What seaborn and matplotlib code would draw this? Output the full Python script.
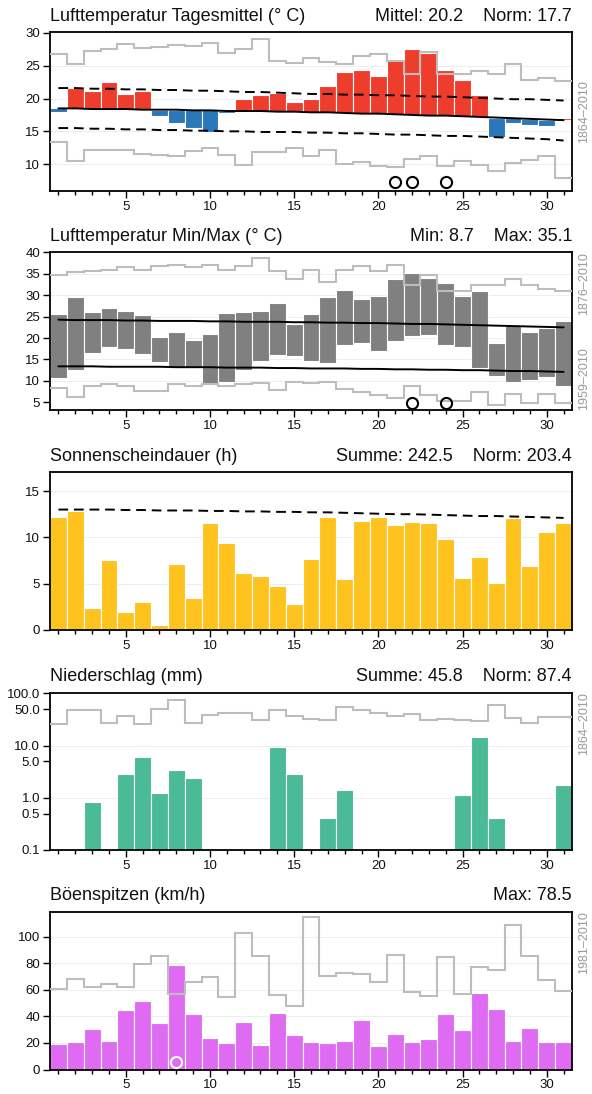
import numpy as np
import seaborn as sns
import matplotlib
matplotlib.use("Agg")
import matplotlib.pyplot as plt
from matplotlib.ticker import NullLocator, FixedFormatter

# ---- data ----
days = np.arange(1, 32)

# Lufttemperatur Tagesmittel
temp_mean = [18.0, 21.6, 21.2, 22.5, 20.7, 21.2, 17.4, 16.3, 15.5, 14.9, 17.8,
             19.9, 20.6, 20.8, 19.5, 20.0, 21.9, 24.0, 24.3, 23.4, 26.1, 27.6,
             26.9, 24.3, 22.9, 20.5, 14.2, 16.2, 16.0, 15.8, 17.0]
temp_norm = [18.5, 18.5, 18.4, 18.4, 18.4, 18.3, 18.3, 18.3, 18.2, 18.2, 18.1,
             18.1, 18.1, 18.0, 18.0, 17.9, 17.9, 17.8, 17.7, 17.7, 17.6, 17.5,
             17.4, 17.4, 17.3, 17.2, 17.1, 17.0, 16.9, 16.8, 16.7]
temp_norm_hi = [21.6, 21.6, 21.5, 21.5, 21.4, 21.4, 21.3, 21.3, 21.2, 21.2, 21.1,
                21.0, 21.0, 20.9, 20.8, 20.7, 20.7, 20.6, 20.6, 20.5, 20.5, 20.4,
                20.3, 20.3, 20.2, 20.1, 20.0, 19.9, 19.9, 19.8, 19.7]
temp_norm_lo = [15.5, 15.5, 15.4, 15.4, 15.3, 15.3, 15.2, 15.2, 15.1, 15.1, 15.0,
                15.0, 14.9, 14.9, 14.9, 14.8, 14.8, 14.7, 14.7, 14.6, 14.5, 14.5,
                14.4, 14.3, 14.3, 14.2, 14.1, 14.0, 13.9, 13.8, 13.6]
temp_rec_hi = [26.8, 25.3, 27.2, 27.6, 28.3, 27.7, 27.9, 28.1, 28.0, 28.4, 27.0,
               27.6, 29.1, 25.7, 25.4, 26.2, 25.5, 25.3, 26.5, 26.8, 25.8, 23.8,
               27.1, 23.8, 23.8, 24.2, 23.8, 25.2, 22.8, 23.2, 22.7]
temp_rec_lo = [13.3, 10.5, 12.1, 12.2, 12.1, 11.5, 11.4, 11.2, 12.0, 12.5, 11.4,
               9.85, 11.8, 11.9, 12.4, 11.3, 12.2, 10.05, 10.3, 9.75, 9.6, 10.8,
               11.3, 9.7, 10.5, 9.8, 8.9, 10.1, 10.6, 11.2, 7.9]
temp_record_days = [21, 22, 24]

# Lufttemperatur Min/Max
tmax = [25.7, 29.6, 26.2, 27.1, 26.4, 25.4, 20.2, 21.4, 19.6, 21.0, 25.8, 26.2,
        26.4, 28.2, 23.4, 25.7, 29.5, 31.3, 29.1, 29.9, 33.8, 35.1, 34.0, 32.8,
        29.9, 31.0, 18.8, 23.1, 21.3, 22.3, 24.0]
tmin = [10.6, 12.6, 16.6, 17.9, 17.4, 16.3, 14.5, 13.0, 13.3, 9.2, 9.7, 12.6,
        14.7, 16.1, 15.7, 14.7, 14.1, 18.4, 18.8, 17.0, 19.4, 20.4, 20.8, 18.3,
        17.9, 13.0, 11.2, 9.8, 10.2, 10.9, 8.7]
tmax_norm = [24.3, 24.2, 24.2, 24.2, 24.1, 24.1, 24.0, 24.0, 24.0, 23.9, 23.9,
             23.8, 23.8, 23.8, 23.7, 23.7, 23.6, 23.6, 23.5, 23.5, 23.4, 23.3,
             23.3, 23.2, 23.1, 23.0, 22.9, 22.8, 22.7, 22.6, 22.5]
tmin_norm = [13.4, 13.4, 13.4, 13.3, 13.3, 13.3, 13.3, 13.2, 13.2, 13.2, 13.1,
             13.1, 13.1, 13.0, 13.0, 12.9, 12.9, 12.9, 12.8, 12.8, 12.7, 12.7,
             12.6, 12.6, 12.5, 12.5, 12.4, 12.3, 12.3, 12.2, 12.1]
tmax_rec = [34.8, 35.4, 35.6, 35.8, 36.7, 35.8, 36.8, 37.1, 36.7, 37.0, 35.8,
            36.8, 38.7, 35.6, 33.9, 35.8, 33.0, 35.8, 36.9, 35.7, 37.1, 32.4,
            34.7, 31.0, 30.9, 32.4, 32.4, 33.8, 32.3, 31.4, 31.0]
tmin_rec = [8.4, 6.3, 8.7, 9.3, 8.7, 7.7, 7.7, 9.3, 8.7, 9.3, 8.7, 9.3, 9.45,
            7.9, 9.8, 9.45, 9.8, 8.05, 7.5, 6.7, 5.9, 8.7, 6.7, 5.2, 5.2, 7.35,
            4.4, 6.9, 4.9, 6.9, 4.9]
tmax_record_days = [22, 24]

# Sonnenscheindauer
sunshine = [12.2, 12.8, 2.4, 7.6, 1.9, 3.0, 0.5, 7.1, 3.5, 11.6, 9.4, 6.2, 5.8,
            4.7, 2.8, 7.7, 12.2, 5.5, 11.8, 12.2, 11.3, 11.7, 11.5, 9.8, 5.6,
            7.9, 5.1, 12.1, 6.9, 10.6, 11.5]
sunshine_max = [13.0, 13.0, 13.0, 13.0, 12.95, 12.95, 12.9, 12.9, 12.9, 12.85,
                12.85, 12.8, 12.8, 12.75, 12.75, 12.7, 12.7, 12.65, 12.6, 12.55,
                12.5, 12.5, 12.45, 12.4, 12.35, 12.3, 12.3, 12.25, 12.2, 12.15,
                12.1]

# Niederschlag (0 = trocken)
precip = [0, 0, 0.73, 0, 2.7, 5.9, 1.15, 3.3, 2.3, 0, 0, 0, 0, 9.3, 2.8, 0,
          0.31, 1.34, 0, 0, 0, 0, 0, 0, 1.05, 14.2, 0.31, 0, 0, 0, 1.67]
precip_rec = [26.3, 47.3, 48.7, 27.5, 36.3, 26.3, 49.4, 75.5, 27.5, 38.0, 42.7,
              42.7, 31.3, 48.0, 36.3, 31.8, 31.3, 54.0, 48.7, 42.7, 36.8, 40.2,
              31.3, 32.3, 30.9, 30.0, 58.9, 33.7, 26.7, 35.3, 35.3]

# Böenspitzen
gust = [19.1, 20.4, 30.4, 21.4, 44.5, 51.8, 35.2, 78.5, 41.7, 23.6, 19.6, 35.9,
        18.1, 42.7, 25.9, 20.9, 19.6, 21.6, 37.2, 17.6, 26.9, 20.9, 22.9, 41.5,
        29.6, 57.8, 45.2, 21.6, 30.9, 20.9, 20.6]
gust_rec = [60.6, 68.3, 62.3, 64.1, 62.3, 79.1, 85.7, 56.8, 66.1, 69.6, 54.3,
            102.5, 85.4, 55.8, 48.0, 114.6, 70.6, 72.6, 71.9, 66.1, 86.4, 58.5,
            55.3, 84.7, 57.0, 77.1, 74.6, 108.8, 85.4, 67.3, 59.3]
gust_record_days = [8]

RED = '#ef3d2d'
BLUE = '#2a77ba'
GREY_BAR = '#808080'
YELLOW = '#ffc320'
GREEN = '#4bba97'
MAGENTA = '#df6bf2'
REC = '#bdbdbd'
SIDE = '#9a9a9a'

sns.set_theme(style='white')
plt.rcParams['font.family'] = ['Liberation Sans', 'DejaVu Sans']

W, H = 592, 1094
fig = plt.figure(figsize=(W / 100, H / 100), dpi=100)


def add_panel(top, bottom):
    return fig.add_axes([50 / W, 1 - bottom / H, 522 / W, (bottom - top) / H])


edges = np.arange(0.5, 32.5)


def style_axis(ax, ylim, yticks, grid):
    ax.set_xlim(0.5, 31.5)
    ax.set_ylim(*ylim)
    ax.set_xticks([5, 10, 15, 20, 25, 30])
    ax.set_xticks(days, minor=True)
    ax.set_yticks(yticks)
    ax.tick_params(which='both', bottom=True, left=True, direction='out',
                   color='black', width=1)
    ax.tick_params(which='major', length=5, labelsize=9.5, pad=2,
                   labelcolor='#111111')
    ax.tick_params(which='minor', length=3)
    ax.yaxis.set_minor_locator(NullLocator())
    for s in ax.spines.values():
        s.set_color('black')
        s.set_linewidth(1.3)
    for y in grid:
        ax.axhline(y, color='#eeeeee', lw=0.8, zorder=0)
    ax.set_xlabel('')
    ax.set_ylabel('')


def titles(ax, left, right):
    ax.annotate(left, xy=(0, 1), xycoords='axes fraction', xytext=(0, 8),
                textcoords='offset points', ha='left', va='baseline',
                fontsize=13, color='#111111')
    ax.annotate(right, xy=(1, 1), xycoords='axes fraction', xytext=(0, 8),
                textcoords='offset points', ha='right', va='baseline',
                fontsize=13, color='#111111')


def side_label(ax, text, ypos, va):
    ax.annotate(text, xy=(1, ypos), xycoords='axes fraction', xytext=(8.6, 0),
                textcoords='offset points', ha='center', va=va, rotation=90,
                fontsize=9, color=SIDE)


# ---- Panel 1: Tagesmittel ----
ax1 = add_panel(32, 191)
t_mean = np.array(temp_mean)
t_norm = np.array(temp_norm)
diff = t_mean - t_norm
ax1.bar(days, diff, bottom=t_norm, width=1,
        color=np.where(diff >= 0, RED, BLUE), edgecolor='white',
        linewidth=0.8, zorder=2)
ax1.stairs(temp_rec_hi, edges, baseline=None, color=REC, lw=1.5, zorder=3)
ax1.stairs(temp_rec_lo, edges, baseline=None, color=REC, lw=1.5, zorder=3)
sns.lineplot(x=days, y=temp_norm, color='black', lw=1.4, ax=ax1, zorder=4)
sns.lineplot(x=days, y=temp_norm_hi, color='black', lw=1.4,
             linestyle=(0, (5, 3)), ax=ax1, zorder=4)
sns.lineplot(x=days, y=temp_norm_lo, color='black', lw=1.4,
             linestyle=(0, (5, 3)), ax=ax1, zorder=4)
ax1.plot(temp_record_days, [7.2] * len(temp_record_days), 'o', mfc='none',
         mec='black', ms=8, mew=1.5, zorder=5)
style_axis(ax1, (5.9, 30.15), [10, 15, 20, 25, 30], [10, 15, 20, 25])
titles(ax1, 'Lufttemperatur Tagesmittel (° C)', 'Mittel: 20.2    Norm: 17.7')
side_label(ax1, '1864–2010', 0.5, 'center')

# ---- Panel 2: Min/Max ----
ax2 = add_panel(252, 410)
lo = np.array(tmin)
hi = np.array(tmax)
ax2.bar(days, hi - lo, bottom=lo, width=1, color=GREY_BAR,
        edgecolor='white', linewidth=0.8, zorder=2)
ax2.stairs(tmax_rec, edges, baseline=None, color=REC, lw=1.5, zorder=3)
ax2.stairs(tmin_rec, edges, baseline=None, color=REC, lw=1.5, zorder=3)
sns.lineplot(x=days, y=tmax_norm, color='black', lw=1.4, ax=ax2, zorder=4)
sns.lineplot(x=days, y=tmin_norm, color='black', lw=1.4, ax=ax2, zorder=4)
ax2.plot(tmax_record_days, [4.9] * len(tmax_record_days), 'o', mfc='none',
         mec='black', ms=8, mew=1.5, zorder=5)
style_axis(ax2, (3.2, 40.1), [5, 10, 15, 20, 25, 30, 35, 40],
           [10, 15, 20, 25, 30, 35])
titles(ax2, 'Lufttemperatur Min/Max (° C)', 'Min: 8.7    Max: 35.1')
side_label(ax2, '1876–2010', 1, 'top')
side_label(ax2, '1959–2010', 0, 'bottom')

# ---- Panel 3: Sonnenscheindauer ----
ax3 = add_panel(472.5, 630)
sns.barplot(x=days, y=sunshine, native_scale=True, width=1, color=YELLOW,
            saturation=1, edgecolor='white', linewidth=0.8, errorbar=None,
            ax=ax3, zorder=2)
sns.lineplot(x=days, y=sunshine_max, color='black', lw=1.4,
             linestyle=(0, (5, 3)), ax=ax3, zorder=4)
style_axis(ax3, (0, 17), [0, 5, 10, 15], [5, 10, 15])
titles(ax3, 'Sonnenscheindauer (h)', 'Summe: 242.5    Norm: 203.4')

# ---- Panel 4: Niederschlag ----
ax4 = add_panel(692.5, 850)
ax4.set_yscale('log')
p = np.array(precip, dtype=float)
wet = p > 0
ax4.bar(days[wet], p[wet], bottom=0.1, width=1, color=GREEN,
        edgecolor='white', linewidth=0.8, zorder=2)
ax4.stairs(precip_rec, edges, baseline=None, color=REC, lw=1.5, zorder=3)
style_axis(ax4, (0.1, 104), [0.1, 0.5, 1, 5, 10, 50, 100], [1, 10])
ax4.yaxis.set_major_formatter(
    FixedFormatter(['0.1', '0.5', '1.0', '5.0', '10.0', '50.0', '100.0']))
ax4.yaxis.set_minor_locator(NullLocator())
titles(ax4, 'Niederschlag (mm)', 'Summe: 45.8    Norm: 87.4')
side_label(ax4, '1864–2010', 1, 'top')

# ---- Panel 5: Böenspitzen ----
ax5 = add_panel(911.5, 1069.5)
sns.barplot(x=days, y=gust, native_scale=True, width=1, color=MAGENTA,
            saturation=1, edgecolor='white', linewidth=0.8, errorbar=None,
            ax=ax5, zorder=2)
ax5.stairs(gust_rec, edges, baseline=None, color=REC, lw=1.5, zorder=3)
ax5.plot(gust_record_days, [5.8] * len(gust_record_days), 'o', mfc='none',
         mec='white', ms=8, mew=1.5, zorder=5)
style_axis(ax5, (0, 119), [0, 20, 40, 60, 80, 100], [20, 40, 60, 80, 100])
titles(ax5, 'Böenspitzen (km/h)', 'Max: 78.5')
side_label(ax5, '1981–2010', 1, 'top')

fig.savefig('out.png', dpi=100)
